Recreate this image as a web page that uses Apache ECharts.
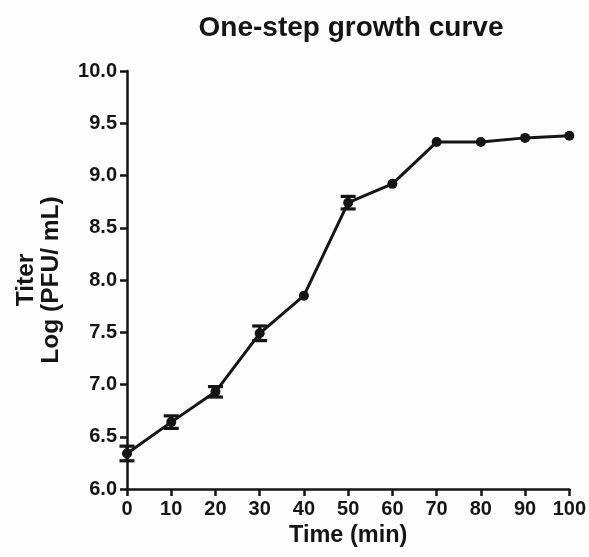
<!DOCTYPE html>
<html>
<head>
<meta charset="utf-8">
<script src="https://cdn.jsdelivr.net/npm/echarts@6/dist/echarts.min.js"></script>
<style>
  html, body { margin: 0; padding: 0; background: #fdfdfd; }
  #main { width: 589px; height: 557px; }
</style>
</head>
<body>
<div id="main"></div>
<script>
// time after infection (min)
var timePoints = [0, 10, 20, 30, 40, 50, 60, 70, 80, 90, 100];
// mean titer, log10 PFU/mL
var titerMean = [6.34, 6.64, 6.93, 7.49, 7.85, 8.74, 8.92, 9.32, 9.32, 9.36, 9.38];
// error (SD), 0 where hidden by the marker
var titerErr = [0.07, 0.06, 0.05, 0.07, 0, 0.06, 0, 0, 0, 0, 0];

var ink = '#151515';
var font = 'Liberation Sans';

var lineData = timePoints.map(function (t, i) { return [t, titerMean[i]]; });
var errData = timePoints.map(function (t, i) {
  return [t, titerMean[i] - titerErr[i], titerMean[i] + titerErr[i]];
}).filter(function (d) { return d[2] > d[1]; });

var chart = echarts.init(document.getElementById('main'));

chart.setOption({
  backgroundColor: '#fdfdfd',
  animation: false,
  title: {
    text: 'One-step growth curve',
    left: 346,
    textAlign: 'center',
    top: 9,
    textStyle: { fontFamily: font, fontSize: 28, fontWeight: 'bold', color: ink }
  },
  grid: { left: 127, right: 19, top: 71, bottom: 68 },
  xAxis: {
    type: 'value',
    min: 0,
    max: 100,
    interval: 10,
    name: 'Time (min)',
    nameLocation: 'middle',
    nameGap: 33,
    nameTextStyle: { fontFamily: font, fontSize: 23.5, fontWeight: 'bold', color: ink },
    axisLine: { show: true, onZero: false, lineStyle: { color: ink, width: 2.5 } },
    axisTick: { show: true, length: 7, lineStyle: { color: ink, width: 2.5 } },
    axisLabel: { margin: 10, fontFamily: font, fontSize: 20, fontWeight: 'bold', color: ink },
    splitLine: { show: false }
  },
  yAxis: {
    type: 'value',
    min: 6,
    max: 10,
    interval: 0.5,
    name: 'Titer\nLog (PFU/ mL)',
    nameLocation: 'middle',
    nameGap: 63,
    nameTextStyle: { fontFamily: font, fontSize: 24.5, fontWeight: 'bold', color: ink, lineHeight: 25 },
    axisLine: { show: true, lineStyle: { color: ink, width: 2.5 } },
    axisTick: { show: true, length: 7, lineStyle: { color: ink, width: 2.5 } },
    axisLabel: {
      margin: 10, fontFamily: font, fontSize: 20, fontWeight: 'bold', color: ink,
      formatter: function (v) { return v.toFixed(1); }
    },
    splitLine: { show: false }
  },
  series: [
    {
      type: 'line',
      data: lineData,
      clip: false,
      symbol: 'circle',
      symbolSize: 10,
      itemStyle: { color: ink },
      lineStyle: { color: ink, width: 3 },
      z: 3
    },
    {
      type: 'custom',
      data: errData,
      clip: false,
      z: 4,
      renderItem: function (params, api) {
        var x = api.value(0);
        var lo = api.coord([x, api.value(1)]);
        var hi = api.coord([x, api.value(2)]);
        var w = 7.5;
        var style = { stroke: ink, lineWidth: 3.2 };
        return {
          type: 'group',
          children: [
            { type: 'line', shape: { x1: lo[0], y1: lo[1], x2: hi[0], y2: hi[1] }, style: style },
            { type: 'line', shape: { x1: lo[0] - w, y1: lo[1], x2: lo[0] + w, y2: lo[1] }, style: style },
            { type: 'line', shape: { x1: hi[0] - w, y1: hi[1], x2: hi[0] + w, y2: hi[1] }, style: style }
          ]
        };
      }
    }
  ]
});
</script>
</body>
</html>
